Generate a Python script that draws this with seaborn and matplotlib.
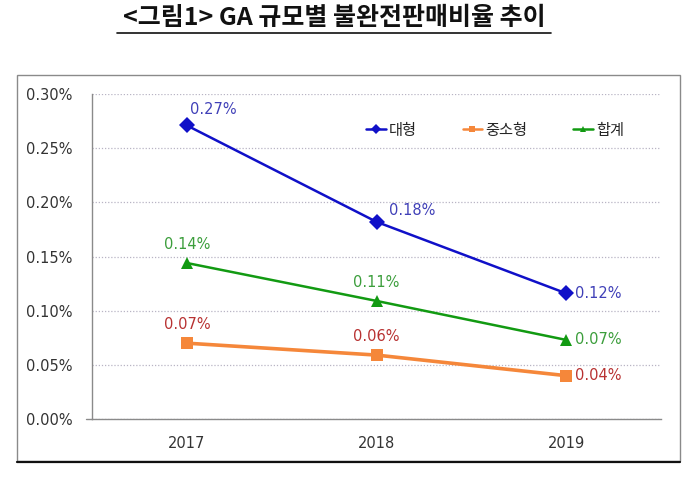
import matplotlib
matplotlib.use("Agg")
import matplotlib.pyplot as plt
import seaborn as sns
import pandas as pd
from matplotlib.patches import Rectangle
from matplotlib.lines import Line2D
from matplotlib.ticker import FuncFormatter, FixedLocator

years = ["2017", "2018", "2019"]
large = [0.271, 0.182, 0.116]
small = [0.070, 0.059, 0.040]
total = [0.144, 0.109, 0.073]
series_names = ["대형", "중소형", "합계"]
label_large = ["0.27%", "0.18%", "0.12%"]
label_small = ["0.07%", "0.06%", "0.04%"]
label_total = ["0.14%", "0.11%", "0.07%"]
title = "<그림1> GA 규모별 불완전판매비율 추이"

sns.set_theme(style="white")
plt.rcParams['font.family'] = ['Noto Sans CJK KR', 'DejaVu Sans']

rows = []
for name, vals in zip(series_names, [large, small, total]):
    for i, (y, v) in enumerate(zip(years, vals)):
        rows.append({"pos": i, "year": y, "series": name, "value": v})
df = pd.DataFrame(rows)

palette = {"대형": "#1010C8", "중소형": "#F5873A", "합계": "#129A12"}
markers = {"대형": "D", "중소형": "s", "합계": "^"}

fig = plt.figure(figsize=(7, 4.83), dpi=100)
ax = fig.add_axes([92/700, 1-419/483, (661-92)/700, (419-94)/483])

for name in series_names:
    sub = df[df.series == name]
    sns.lineplot(data=sub, x="pos", y="value", color=palette[name],
                 marker=markers[name], markersize=8,
                 markeredgewidth=0, lw=2.6 if name == "중소형" else 1.8,
                 ax=ax, legend=False)

ax.set_xlim(-0.5, 2.5)
ax.set_ylim(0, 0.30)
ax.set_yticks([0, 0.05, 0.10, 0.15, 0.20, 0.25, 0.30])
ax.yaxis.set_major_formatter(FuncFormatter(lambda v, p: f"{v:.2f}%"))
ax.set_xticks([0, 1, 2])
ax.set_xticklabels(years)
ax.xaxis.set_minor_locator(FixedLocator([0.5, 1.5, 2.5]))
ax.tick_params(axis="x", which="major", length=0, labelsize=10.5, pad=12, labelcolor="#333333")
ax.tick_params(axis="x", which="minor", length=5, color="#888888", width=1)
ax.tick_params(axis="y", which="major", length=0, labelsize=10.5, pad=14, labelcolor="#333333")
for t in ax.get_yticklabels() + ax.get_xticklabels():
    t.set_fontfamily(['DejaVu Sans'])
ax.set_xlabel("")
ax.set_ylabel("")
ax.grid(axis="y", linestyle=(0, (1, 1.5)), color="#B8B4C4", lw=0.9)
ax.grid(axis="x", visible=False)
for s in ["top", "right"]:
    ax.spines[s].set_visible(False)
for s in ["left", "bottom"]:
    ax.spines[s].set_color("#8A8A8A")
    ax.spines[s].set_linewidth(1.0)
ax.plot([-0.5 - 0.03, -0.5], [0, 0], color="#8A8A8A", lw=1.0, clip_on=False)

lc = {"대형": "#4040B8", "중소형": "#B83232", "합계": "#3C9E3C"}
fs = 10.5
# large labels
ax.annotate(label_large[0], (0, large[0]), xytext=(2, 6), textcoords="offset points",
            color=lc["대형"], fontsize=fs, ha="left", va="bottom", family=['DejaVu Sans'])
ax.annotate(label_large[1], (1, large[1]), xytext=(9, 3), textcoords="offset points",
            color=lc["대형"], fontsize=fs, ha="left", va="bottom", family=['DejaVu Sans'])
ax.annotate(label_large[2], (2, large[2]), xytext=(6, 0), textcoords="offset points",
            color=lc["대형"], fontsize=fs, ha="left", va="center", family=['DejaVu Sans'])
# total labels
for i in range(2):
    ax.annotate(label_total[i], (i, total[i]), xytext=(0, 8), textcoords="offset points",
                color=lc["합계"], fontsize=fs, ha="center", va="bottom", family=['DejaVu Sans'])
ax.annotate(label_total[2], (2, total[2]), xytext=(6, 0), textcoords="offset points",
            color=lc["합계"], fontsize=fs, ha="left", va="center", family=['DejaVu Sans'])
# small labels
for i in range(2):
    ax.annotate(label_small[i], (i, small[i]), xytext=(0, 8), textcoords="offset points",
                color=lc["중소형"], fontsize=fs, ha="center", va="bottom", family=['DejaVu Sans'])
ax.annotate(label_small[2], (2, small[2]), xytext=(6, 0), textcoords="offset points",
            color=lc["중소형"], fontsize=fs, ha="left", va="center", family=['DejaVu Sans'])

handles = [Line2D([0], [0], color=palette[n], marker=markers[n], markersize=5,
                  lw=1.8, markeredgewidth=0) for n in series_names]
ax.legend(handles, series_names, loc="center", bbox_to_anchor=((495-92)/569, (419-130)/325),
          ncol=3, frameon=False, fontsize=11, handlelength=1.3, handletextpad=0.2,
          columnspacing=3.0)

# outer chart frame
fig.patches.append(Rectangle((17/700, 1-461/483), (680-17)/700, (461-75)/483,
                             transform=fig.transFigure, fill=False,
                             edgecolor="#8A8A8A", lw=1.0))
fig.add_artist(Line2D([17/700, 680/700], [1-461.5/483, 1-461.5/483],
                      transform=fig.transFigure, color="#111111", lw=1.6))

# title with underline
fig.text(334/700, 1-18/483, title, ha="center", va="center", fontsize=18,
         fontweight="bold", color="#111111")
fig.add_artist(Line2D([117/700, 551/700], [1-33/483, 1-33/483],
                      transform=fig.transFigure, color="#111111", lw=1.2))

fig.savefig("out.png", dpi=100)
